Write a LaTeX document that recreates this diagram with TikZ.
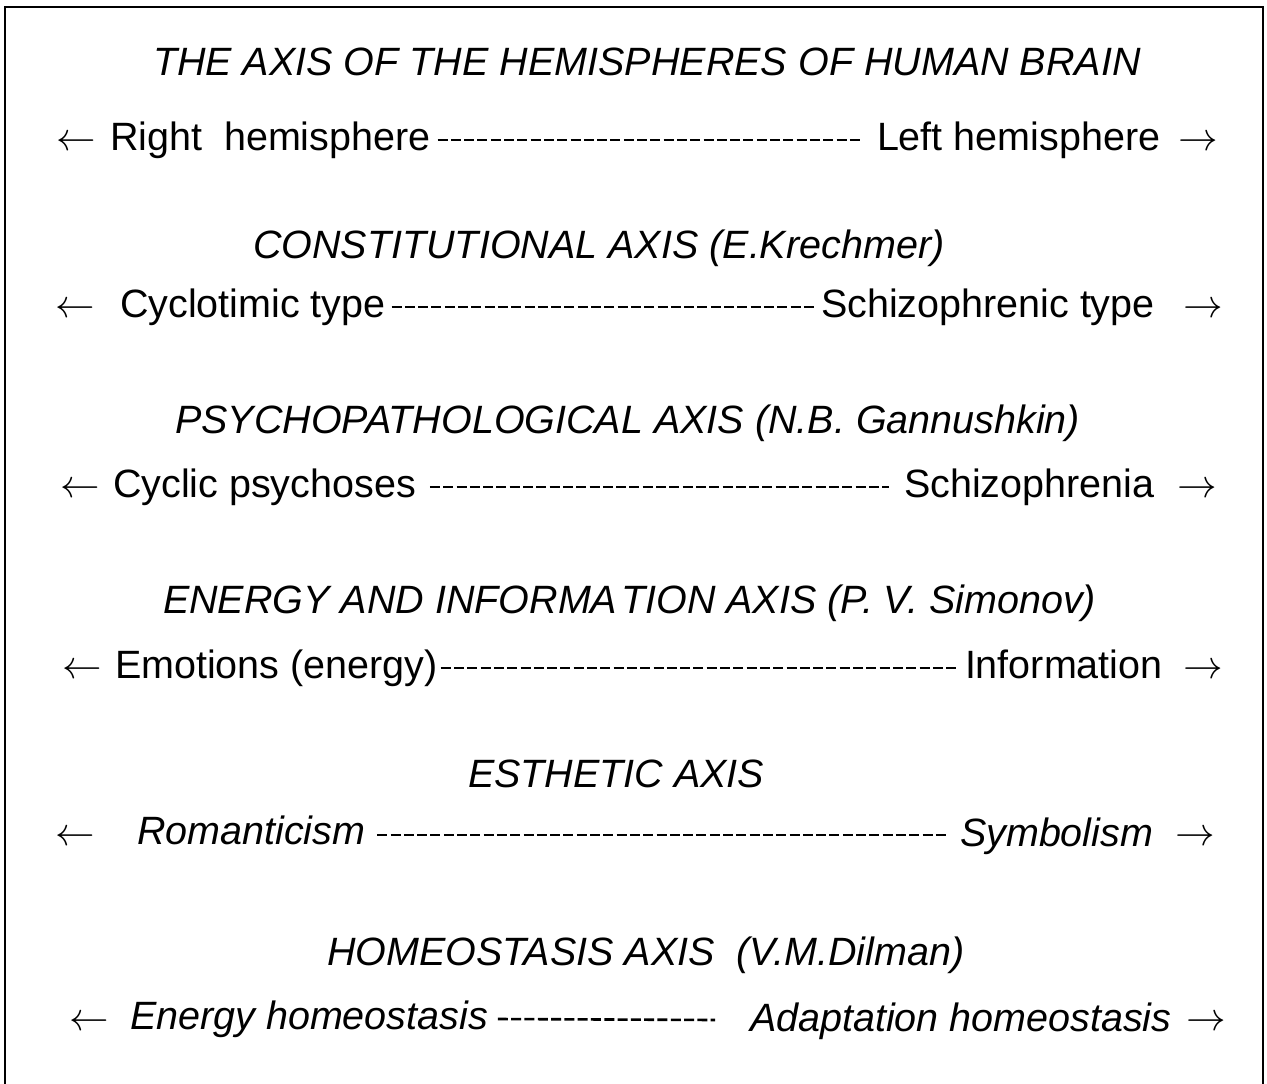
\documentclass[tikz,border=0pt]{standalone}
\usepackage{graphicx}
\usepackage{fontspec}
\setmainfont{Liberation Sans}
\newcommand{\lar}{\scalebox{1.59}{$\leftarrow$}}
\newcommand{\rar}{\scalebox{1.59}{$\rightarrow$}}
\begin{document}
\begin{tikzpicture}[x=1pt,y=-1pt,
  txt/.style={inner sep=0pt,outer sep=0pt,anchor=base west,font=\fontsize{39.5}{47}\selectfont},
  ttl/.style={txt,font=\fontsize{39.5}{47}\selectfont\itshape},
  arr/.style={inner sep=0pt,outer sep=0pt,anchor=base west,font=\fontsize{39.5}{47}\selectfont},
  dashline/.style={line width=2.6pt,dash pattern=on 10pt off 3.3pt},
  frame/.style={line width=2.7pt}]
\useasboundingbox (0,0) rectangle (1267,1084);
\draw[frame] (5,1095) -- (5,7) -- (1263,7) -- (1263,1095);

% Row 1
\node[ttl] (t1) at (153,75) {THE AXIS OF THE HEMISPHERES OF HUMAN BRAIN};
\node[arr] (la1) at (56,150) {\lar};
\node[txt] (a1) at (110,150) {Right\ \ hemisphere};
\node[txt] (b1) at (877,150) {Left hemisphere};
\node[arr] (ra1) at (1178,150) {\rar};
\draw[dashline] ([shift={(7,-10)}]a1.base east) -- ([shift={(-14,-10)}]b1.base west);

% Row 2
\node[ttl] (t2) at (253,258) {CONSTITUTIONAL AXIS (E.Krechmer)};
\node[arr] (la2) at (55,317) {\lar};
\node[txt] (a2) at (120,317) {Cyclotimic type};
\node[txt] (b2) at (821,317) {Schizophrenic type};
\node[arr] (ra2) at (1183,317) {\rar};
\draw[dashline] ([shift={(6,-10)}]a2.base east) -- ([shift={(-5,-10)}]b2.base west);

% Row 3
\node[ttl] (t3) at (175,433) {PSYCHOPATHOLOGICAL AXIS (N.B. Gannushkin)};
\node[arr] (la3) at (60,497) {\lar};
\node[txt] (a3) at (113,497) {Cyclic psychoses};
\node[txt] (b3) at (904,497) {Schizophrenia};
\node[arr] (ra3) at (1177,497) {\rar};
\draw[dashline] ([shift={(14,-10)}]a3.base east) -- ([shift={(-15,-10)}]b3.base west);

% Row 4
\node[ttl] (t4) at (163,613) {ENERGY AND INFORMA\kern4pt TION AXIS (P. V. Simonov)};
\node[arr] (la4) at (62,678) {\lar};
\node[txt] (a4) at (115,678) {Emotions (energy)};
\node[txt] (b4) at (965,678) {Information};
\node[arr] (ra4) at (1183,678) {\rar};
\draw[dashline] ([shift={(3,-10)}]a4.base east) -- ([shift={(-9,-10)}]b4.base west);

% Row 5
\node[ttl] (t5) at (468,787) {ESTHETIC AXIS};
\node[arr] (la5) at (55,845) {\lar};
\node[ttl] (a5) at (137,844) {Romanticism};
\node[ttl] (b5) at (960,846) {Symbolism};
\node[arr] (ra5) at (1175,845) {\rar};
\draw[dashline] ([shift={(12,-9)}]a5.base east) -- ([shift={(-14,-11)}]b5.base west);

% Row 6
\node[ttl] (t6) at (327,965) {HOMEOSTASIS AXIS\ \ (V.M.Dilman)};
\node[arr] (la6) at (69,1030) {\lar};
\node[ttl] (a6) at (130,1029) {Energy homeostasis};
\node[ttl] (b6) at (750,1031) {Adaptation homeostasis};
\node[arr] (ra6) at (1186,1030) {\rar};
\draw[dashline] ([shift={(10,-10)}]a6.base east) -- (715,1020);
\end{tikzpicture}
\end{document}
